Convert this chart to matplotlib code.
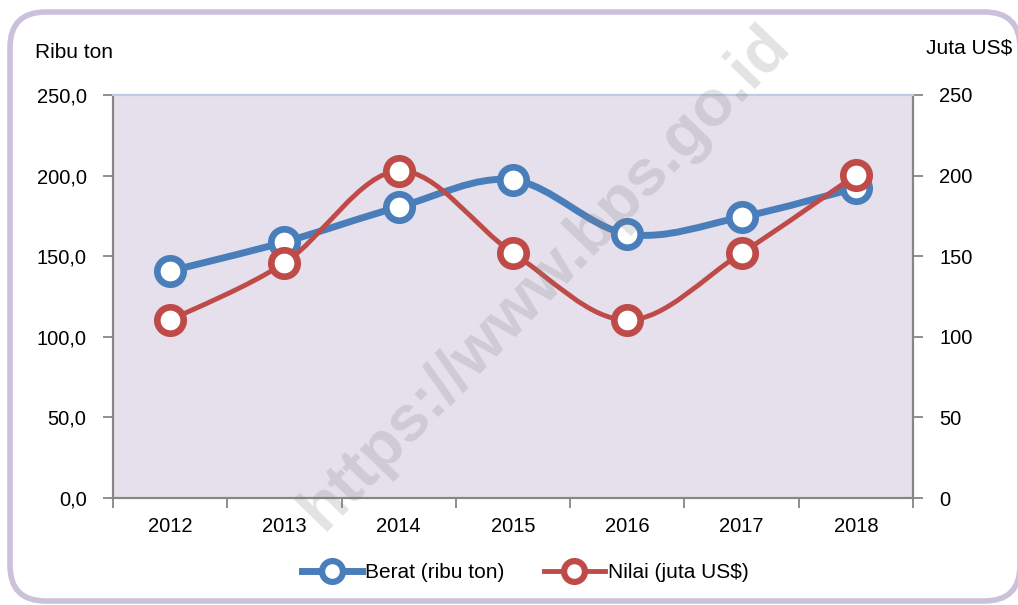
import numpy as np
import matplotlib
matplotlib.use("Agg")
import matplotlib.pyplot as plt
from matplotlib.path import Path
from matplotlib.patches import PathPatch, FancyBboxPatch
from matplotlib.lines import Line2D

plt.rcParams['font.family'] = ['Liberation Sans Narrow', 'Liberation Sans', 'DejaVu Sans']

years = ['2012', '2013', '2014', '2015', '2016', '2017', '2018']
berat = [140.8, 158.8, 180.5, 197.3, 163.8, 174.3, 192.3]   # ribu ton
nilai = [110.4, 145.8, 202.9, 152.0, 110.4, 152.0, 200.4]   # juta US$

blue = '#4a7ebb'
red = '#be4b48'
bg = '#e5e0ec'


def smooth_path(xs, ys):
    # Excel-like smoothed line: cubic Bezier with Catmull-Rom control points
    xs = np.asarray(xs, float)
    ys = np.asarray(ys, float)
    n = len(xs)
    verts = [(xs[0], ys[0])]
    codes = [Path.MOVETO]
    for i in range(n - 1):
        i0 = max(i - 1, 0)
        i3 = min(i + 2, n - 1)
        c1 = (xs[i] + (xs[i + 1] - xs[i0]) / 6, ys[i] + (ys[i + 1] - ys[i0]) / 6)
        c2 = (xs[i + 1] - (xs[i3] - xs[i]) / 6, ys[i + 1] - (ys[i3] - ys[i]) / 6)
        verts += [c1, c2, (xs[i + 1], ys[i + 1])]
        codes += [Path.CURVE4] * 3
    return Path(verts, codes)


fig = plt.figure(figsize=(10.18, 6.05), dpi=100)
frame = FancyBboxPatch((10 / 1018, 4 / 605), 1010 / 1018, 589 / 605,
                       boxstyle='round,pad=0,rounding_size=0.035',
                       transform=fig.transFigure, facecolor='white',
                       edgecolor='#ccc1da', linewidth=4, zorder=-5, clip_on=False,
                       mutation_aspect=1018 / 605)
fig.patches.append(frame)

ax = fig.add_axes([113 / 1018, 107 / 605, 800 / 1018, 403 / 605])
ax.set_facecolor(bg)
ax2 = ax.twinx()

x = np.arange(len(years))
ax.add_patch(PathPatch(smooth_path(x, berat), facecolor='none', edgecolor=blue,
                       linewidth=5, zorder=3, capstyle='round'))
ax.plot(x, berat, 'o', ms=19, mfc='white', mec=blue, mew=4.8, zorder=4)

ax2.add_patch(PathPatch(smooth_path(x, nilai), facecolor='none', edgecolor=red,
                        linewidth=3.5, zorder=3, capstyle='round'))
ax2.plot(x, nilai, 'o', ms=19, mfc='white', mec=red, mew=4.8, zorder=4)

ax.set_xlim(-0.5, len(years) - 0.5)
ax.set_ylim(0, 250)
ax2.set_ylim(0, 250)

ax.set_xticks(x)
ax.set_xticklabels(years, fontsize=14.5)
ax.set_xticks(np.arange(len(years) + 1) - 0.5, minor=True)
ax.tick_params(axis='x', which='major', length=0, pad=14)
ax.tick_params(axis='x', which='minor', length=7, color='#868686', width=1.3)

yt = [0, 50, 100, 150, 200, 250]
ax.set_yticks(yt)
ax.set_yticklabels(['%d,0' % v for v in yt], fontsize=14.5)
ax.tick_params(axis='y', length=7, color='#868686', width=1.3, pad=12)
ax2.set_yticks(yt)
ax2.set_yticklabels([str(v) for v in yt], fontsize=14.5)
ax2.tick_params(axis='y', length=7, color='#868686', width=1.3, pad=12)

for a in (ax, ax2):
    for s in ('left', 'right', 'bottom'):
        a.spines[s].set_color('#868686')
        a.spines[s].set_linewidth(1.5)
    a.spines['top'].set_color('#b9cde5')
    a.spines['top'].set_linewidth(1.5)

fig.text(35 / 1018, 1 - 52 / 605, 'Ribu ton', fontsize=15, va='center', ha='left')
fig.text(1012 / 1018, 1 - 48 / 605, 'Juta US$', fontsize=15, va='center', ha='right')

handles = [
    Line2D([], [], color=blue, lw=5, marker='o', ms=15, mfc='white', mec=blue, mew=4.5),
    Line2D([], [], color=red, lw=3.5, marker='o', ms=15, mfc='white', mec=red, mew=4.5),
]
fig.legend(handles, ['Berat (ribu ton)', 'Nilai (juta US$)'], loc='center',
           bbox_to_anchor=(525 / 1018, 1 - 573 / 605), ncol=2, frameon=False,
           fontsize=15, handlelength=2.9, handletextpad=0.15, columnspacing=1.9)

fig.text(545 / 1018, 1 - 278 / 605, 'https://www.bps.go.id', fontsize=47,
         fontweight='bold', color='#7f7f7f', alpha=0.22, rotation=46,
         ha='center', va='center', family=['Liberation Sans', 'DejaVu Sans'],
         zorder=10)

fig.savefig('out.png', dpi=100)
